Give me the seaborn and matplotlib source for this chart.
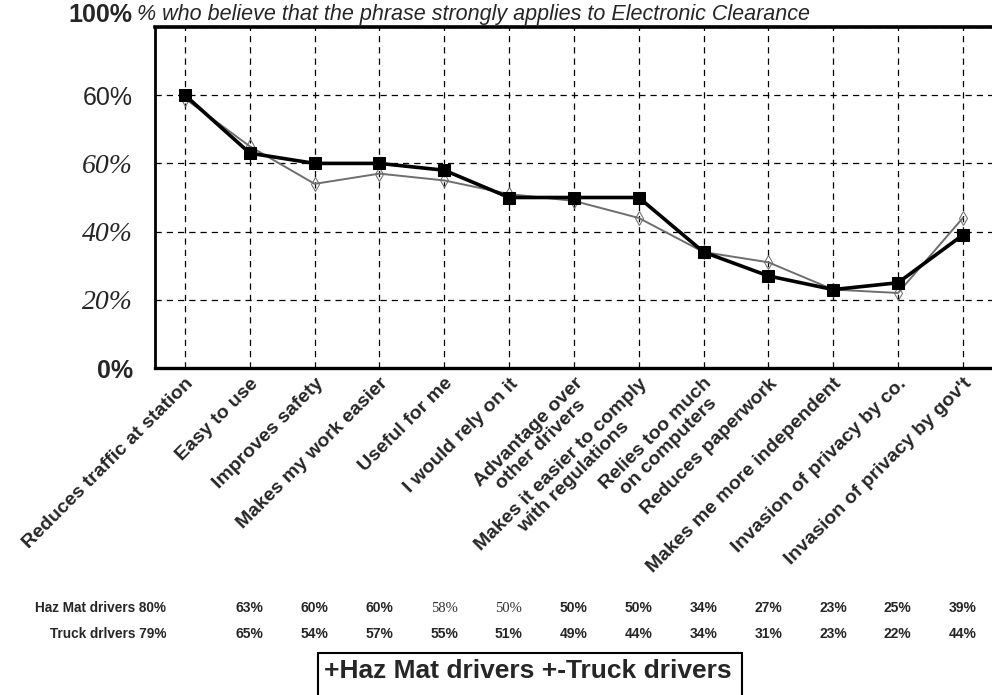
import numpy as np
import pandas as pd
import matplotlib
matplotlib.use("Agg")
import matplotlib.pyplot as plt
import seaborn as sns
from matplotlib.patches import Rectangle

# ── Data ────────────────────────────────────────────────────────────────────
categories = [
    "Reduces traffic at station",
    "Easy to use",
    "Improves safety",
    "Makes my work easier",
    "Useful for me",
    "I would rely on it",
    "Advantage over\nother drivers",
    "Makes it easier to comply\nwith regulations",
    "Relies too much\non computers",
    "Reduces paperwork",
    "Makes me more independent",
    "Invasion of privacy by co.",
    "Invasion of privacy by gov't",
]
haz_mat = [80, 63, 60, 60, 58, 50, 50, 50, 34, 27, 23, 25, 39]
truck = [79, 65, 54, 57, 55, 51, 49, 44, 34, 31, 23, 22, 44]

y_ticks = [0, 20, 40, 60, 80, 100]
y_labels = ["0%", "20%", "40%", "60%", "60%", "100%"]

title = "% who believe that the phrase strongly applies to Electronic Clearance"
row_names = ["Haz Mat drivers", "Truck drlvers"]
legend_text = "+Haz Mat drivers +-Truck drivers"

df = pd.DataFrame({"pos": np.arange(len(categories)), "haz": haz_mat, "truck": truck})

# ── Figure ──────────────────────────────────────────────────────────────────
sns.set_style("white")
plt.rcParams["font.family"] = ["Liberation Sans", "DejaVu Sans"]

fig = plt.figure(figsize=(9.92, 6.95), dpi=100)
ax = fig.add_axes([155 / 992, 1 - 368 / 695, 1 - 155 / 992, (368 - 27) / 695])

sns.lineplot(data=df, x="pos", y="truck", ax=ax, color="#6e6e6e", lw=1.4,
             marker="d", markersize=7, markerfacecolor="none",
             markeredgecolor="#6e6e6e", zorder=3)
sns.lineplot(data=df, x="pos", y="haz", ax=ax, color="black", lw=2.6,
             marker="s", markersize=9, markeredgecolor="black", zorder=4)

ax.set_xlim(-0.463, 12.45)
ax.set_ylim(0, 100)
ax.set_xlabel("")
ax.set_ylabel("")

ax.set_xticks(df["pos"])
ax.set_xticklabels(categories, rotation=45, ha="right", va="top",
                   rotation_mode="anchor", fontsize=14, fontweight="bold",
                   multialignment="center", linespacing=1.05)
ax.set_yticks(y_ticks)
ax.set_yticklabels(y_labels)
ax.tick_params(axis="both", length=0)
ax.tick_params(axis="x", pad=5)
ax.tick_params(axis="y", pad=16)

# y labels come in three different type styles in the scan
for k, lbl in enumerate(ax.get_yticklabels()):
    if k in (0, 5):
        lbl.set_fontweight("bold")
        lbl.set_fontsize(18)
    elif k in (1, 2, 3):
        lbl.set_fontfamily(["Liberation Serif", "DejaVu Serif"])
        lbl.set_fontstyle("italic")
        lbl.set_fontsize(20)
    else:
        lbl.set_fontsize(18)
ax.get_yticklabels()[-1].set_verticalalignment("bottom")

ax.grid(True, color="black", lw=0.9, ls=(0, (5, 4)))
for side in ["top", "bottom", "left"]:
    ax.spines[side].set_visible(True)
    ax.spines[side].set_color("black")
ax.spines["top"].set_linewidth(2.6)
ax.spines["bottom"].set_linewidth(2.4)
ax.spines["left"].set_linewidth(2.0)
ax.spines["right"].set_visible(False)

# title across the top
fig.text(137 / 992, 1 - 20 / 695, title, fontsize=15.5, fontstyle="italic",
         ha="left", va="baseline")

# data table under the chart
narrow = ["Liberation Sans Narrow", "Liberation Sans", "DejaVu Sans"]
for r, (name, vals) in enumerate(zip(row_names, [haz_mat, truck])):
    y_fig = 1 - (608 + 26 * r) / 695
    fig.text(166 / 992, y_fig, f"{name} {vals[0]}%", ha="right", va="center",
             fontsize=9.8, fontweight="bold", family=narrow)
    for i, v in enumerate(vals[1:], start=1):
        x_fig = (185 + 64.8 * i) / 992
        style = dict(fontsize=10, fontweight="bold", family=narrow)
        if r == 0 and i in (4, 5):
            style = dict(fontsize=10.5, family=["Liberation Serif"], color="#333333")
        fig.text(x_fig, y_fig, f"{v}%", ha="center", va="center", **style)

# legend box (bottom is cut off by the figure edge)
fig.patches.append(Rectangle((318 / 992, -0.05), (742 - 318) / 992, 0.05 + 1 - 653 / 695,
                             transform=fig.transFigure, fill=False, ec="black", lw=1.5))
fig.text(528 / 992, 1 - 671 / 695, legend_text, ha="center", va="center",
         fontsize=19, fontweight="bold", family=narrow)

fig.savefig("out.png", dpi=100)
